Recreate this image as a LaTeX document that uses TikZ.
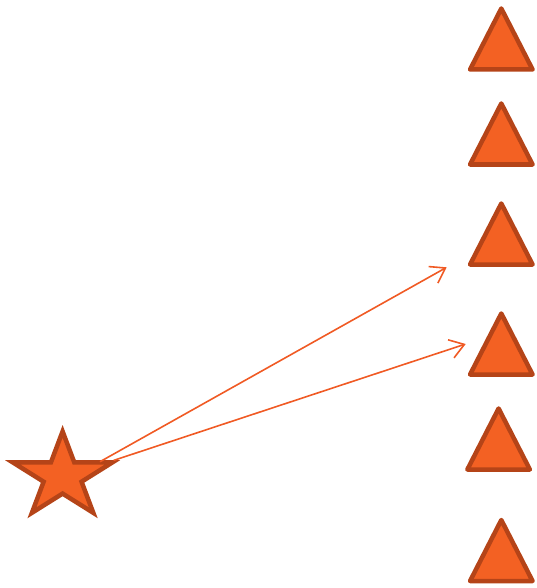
\documentclass[tikz,border=0pt]{standalone}
\usepackage{tikz}
\usetikzlibrary{arrows.meta,shapes.geometric,calc}
\definecolor{fillorange}{RGB}{243,97,35}
\definecolor{edgebrown}{RGB}{181,68,24}
\definecolor{arroworange}{RGB}{240,90,36}

\begin{document}
\begin{tikzpicture}[x=1pt,y=1pt,
  target/.style={isosceles triangle, isosceles triangle stretches, shape border rotate=90,
    minimum width=62.5, minimum height=61, inner sep=0pt, outer sep=0pt, anchor=apex,
    fill=fillorange, draw=edgebrown, line width=4.5pt, line join=round},
  source/.style={star, star points=5, star point ratio=2.618, minimum size=90, inner sep=0pt,
    fill=fillorange, draw=edgebrown, line width=4.5pt, line join=miter, xscale=1.16, transform shape},
  link/.style={draw=arroworange, line width=1.6pt, -{Straight Barb[length=14pt,width=19pt]}}]
\useasboundingbox (0,0) rectangle (537,-588);
% targets on the right
\node[target] (t1) at (501.3,-8.5) {};
\node[target] (t2) at (501.3,-103.5) {};
\node[target] (t3) at (501.3,-203.5) {};
\node[target] (t4) at (501.3,-313.5) {};
\node[target] (t5) at (498.6,-408.5) {};
\node[target] (t6) at (501.3,-520) {};
% source star
\node[source] (src) at (62.6,-476.4) {};
\coordinate (s1) at ($(src.center)+(37.4,14.7)$);
\coordinate (s2) at ($(src.center)+(51,16)$);
\coordinate (e1) at (446.7,-267.3);
\coordinate (e2) at (465.7,-344);
\draw[link] (s1) -- (e1);
\draw[link] (s2) -- (e2);
\end{tikzpicture}
\end{document}
